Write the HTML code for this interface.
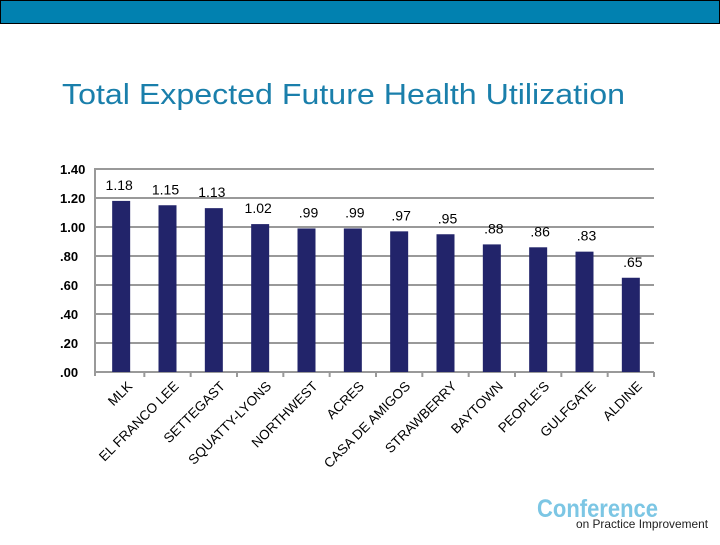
<!DOCTYPE html>
<html><head><meta charset="utf-8"><style>
body{margin:0;width:720px;height:540px;overflow:hidden;background:#fff;font-family:"Liberation Sans",sans-serif}
</style></head><body>
<svg width="720" height="540" xmlns="http://www.w3.org/2000/svg">
<rect x="0.5" y="0.5" width="719" height="23" fill="#0181b0" stroke="#000" stroke-width="1"/>
<text x="62" y="104" font-size="29" fill="#1a7fab" textLength="563" lengthAdjust="spacingAndGlyphs">Total Expected Future Health Utilization</text>
<g id="chart"></g>
<text x="537" y="517" font-size="25" font-weight="bold" fill="#7cc6e4" textLength="121" lengthAdjust="spacingAndGlyphs">Conference</text>
<text x="576" y="528" font-size="12" fill="#222" textLength="132" lengthAdjust="spacingAndGlyphs">on Practice Improvement</text>
</svg>
<script>
const categories=["MLK","EL FRANCO LEE","SETTEGAST","SQUATTY-LYONS","NORTHWEST","ACRES","CASA DE AMIGOS","STRAWBERRY","BAYTOWN","PEOPLE'S","GULFGATE","ALDINE"];
const values=[1.18,1.15,1.13,1.02,0.99,0.99,0.97,0.95,0.88,0.86,0.83,0.65];
const valueLabels=["1.18","1.15","1.13","1.02",".99",".99",".97",".95",".88",".86",".83",".65"];
const yTicks=[0,0.2,0.4,0.6,0.8,1.0,1.2,1.4];
const yTickLabels=[".00",".20",".40",".60",".80","1.00","1.20","1.40"];
const NS="http://www.w3.org/2000/svg";
const g=document.getElementById('chart');
const x0=98,x1=654,y0=372,yTop=169,ymax=1.4;
const bw=(x1-x0)/categories.length;
const y=v=>y0-(v/ymax)*(y0-yTop);
const xc=i=>x0+bw*(i+0.5);
function mk(t,a){const e=document.createElementNS(NS,t);for(const k in a)e.setAttribute(k,a[k]);g.appendChild(e);return e;}
yTicks.forEach((t,i)=>{
 const l=mk('line',{x1:x0-4,x2:x1,y1:y(t),y2:y(t),stroke:'#999','stroke-width':2});
 
 
 const tx=mk('text',{x:60,y:y(t)+5,'font-size':13,'font-weight':'bold',fill:'#000'});
 tx.textContent=yTickLabels[i];
 
 
});
const ax=mk('line',{x1:x0-3,x2:x0-3,y1:yTop,y2:y0+4,stroke:'#999','stroke-width':2});


categories.forEach((c,i)=>{
 const tk=mk('line',{x1:x0+bw*(i+1),x2:x0+bw*(i+1),y1:y0,y2:y0+5,stroke:'#999','stroke-width':2});
 
 
 const b=mk('rect',{x:xc(i)-9,y:y(values[i]),width:18,height:y0-y(values[i]),fill:'#22246a'});
 
 
 const vl=mk('text',{x:xc(i)+(values[i]>=1?-2:2),y:y(values[i])-11,'font-size':14,'text-anchor':'middle',fill:'#000'});
 vl.textContent=valueLabels[i];
 
 
 const lx=xc(i)+12,ly=y0+15;
 const cl=mk('text',{x:lx,y:ly,'font-size':13.5,'text-anchor':'end',fill:'#000',transform:`rotate(-45 ${lx} ${ly})`});
 cl.textContent=c;
 
 
});
</script>
</body></html>
